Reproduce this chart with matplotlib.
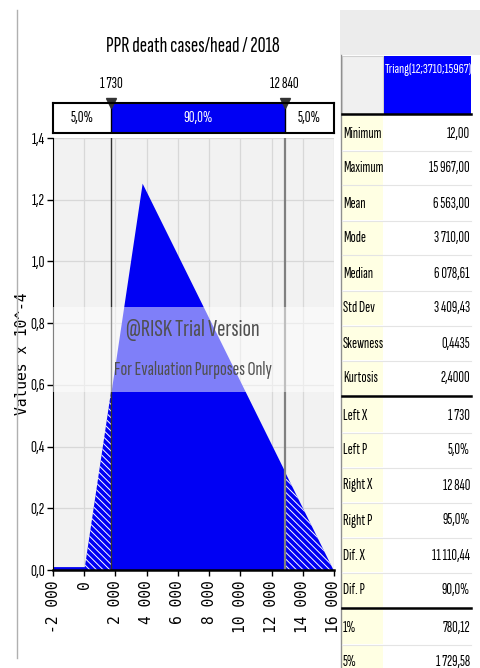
import matplotlib
matplotlib.use("Agg")
import matplotlib.pyplot as plt
from matplotlib.patches import Rectangle

# distribution outline (Triang 12 / 3710 / 15967)
curve_x = [-2000, 12, 1730, 3710, 12840, 15967, 16000]
curve_y = [0.0, 0.0, 0.582, 1.2535, 0.320, 0.0, 0.0]
left_x, right_x = 1730, 12840
band_pcts = ["5,0%", "90,0%", "5,0%"]

x_ticks = [-2000, 0, 2000, 4000, 6000, 8000, 10000, 12000, 14000, 16000]
x_labels = ["-2 000", "0", "2 000", "4 000", "6 000", "8 000",
            "10 000", "12 000", "14 000", "16 000"]
y_ticks = [0.0, 0.2, 0.4, 0.6, 0.8, 1.0, 1.2, 1.4]
y_labels = ["0,0", "0,2", "0,4", "0,6", "0,8", "1,0", "1,2", "1,4"]

stat_names = ["Minimum", "Maximum", "Mean", "Mode", "Median", "Std Dev",
              "Skewness", "Kurtosis"]
stat_vals = ["12,00", "15 967,00", "6 563,00", "3 710,00", "6 078,61",
             "3 409,43", "0,4435", "2,4000"]
tail_names = ["Left X", "Left P", "Right X", "Right P", "Dif. X", "Dif. P"]
tail_vals = ["1 730", "5,0%", "12 840", "95,0%", "11 110,44", "90,0%"]
pct_names = ["1%", "5%"]
pct_vals = ["780,12", "1 729,58"]

BLUE = "#0000f4"
NARROW = ["Sofia Sans Extra Condensed", "DejaVu Sans"]
MONO = ["DejaVu Sans Mono"]
W, H = 480, 668
plt.rcParams["hatch.linewidth"] = 0.7


def fx(px):
    return px / W


def fy(py):
    return 1 - py / H


fig = plt.figure(figsize=(4.8, 6.68), dpi=100)
fig.patch.set_facecolor("white")

# ---- main density plot
ax = fig.add_axes([fx(53), fy(570), fx(334) - fx(53), fy(138) - fy(570)])
ax.set_facecolor("#f2f2f2")
ax.set_xlim(-2000, 16000)
ax.set_ylim(0, 1.4)
ax.grid(color="#d8d8d8", lw=0.9)
ax.set_axisbelow(True)

ax.fill_between(curve_x[1:3], curve_y[1:3], color=BLUE, lw=0,
                hatch="\\\\\\\\\\", edgecolor="white")
ax.fill_between(curve_x[2:5], curve_y[2:5], color=BLUE, lw=0)
ax.fill_between(curve_x[4:6], curve_y[4:6], color=BLUE, lw=0,
                hatch="\\\\\\\\\\", edgecolor="white")
ax.plot(curve_x[:2], [0.008, 0.008], color=BLUE, lw=2)
ax.axvline(left_x, color="#303030", lw=1.0)
ax.axvline(right_x, color="#808080", lw=1.6)

for s in ("top", "right"):
    ax.spines[s].set_visible(False)
ax.spines["left"].set_color("black")
ax.spines["bottom"].set_linewidth(1.8)
ax.set_xticks(x_ticks)
ax.set_xticklabels(x_labels, rotation=90, family=MONO, fontsize=10.5,
                   va="top")
ax.set_yticks(y_ticks)
ax.set_yticklabels(y_labels, family=NARROW, fontsize=12)
ax.tick_params(axis="y", length=4, width=1, color="black", pad=2)
ax.tick_params(axis="x", length=4, width=1, color="black")
ax.set_ylabel("Values x 10^-4", family=MONO, fontsize=10.5)
ax.yaxis.set_label_coords((30 - 53) / 281, 0.5)

# trial watermark band
fig.add_artist(Rectangle((fx(53), fy(392)), fx(334) - fx(53),
                         fy(307) - fy(392), transform=fig.transFigure,
                         facecolor="white", alpha=0.5, lw=0))
fig.text(fx(193), fy(330), "@RISK Trial Version", family=NARROW,
         fontsize=18, color="#505050", ha="center", va="center")
fig.text(fx(193), fy(370), "For Evaluation Purposes Only", family=NARROW,
         fontsize=14.5, color="#505050", ha="center", va="center")

# ---- percentile band above the plot
bx = fig.add_axes([fx(53), fy(133), fx(334) - fx(53), fy(103) - fy(133)])
bx.set_xlim(-2000, 16000)
bx.set_ylim(0, 1)
bx.axvspan(left_x, right_x, color=BLUE, lw=0)
bx.axvline(left_x, color="black", lw=1)
bx.axvline(right_x, color="black", lw=1)
bx.set_xticks([])
bx.set_yticks([])
for s in bx.spines.values():
    s.set_linewidth(1.5)
bx.text((-2000 + left_x) / 2, 0.5, band_pcts[0], ha="center", va="center",
        family=NARROW, fontsize=11.5)
bx.text((left_x + right_x) / 2, 0.5, band_pcts[1], ha="center",
        va="center", family=NARROW, fontsize=11.5, color="white")
bx.text((right_x + 16000) / 2, 0.5, band_pcts[2], ha="center",
        va="center", family=NARROW, fontsize=11.5)
for xv, lab in ((left_x, "1 730"), (right_x, "12 840")):
    bx.plot([xv], [1.0], marker="v", ms=7, color="#333333", clip_on=False)
    bx.text(xv, 1.65, lab, ha="center", va="center", family=NARROW,
            fontsize=11.5)

fig.text(fx(193), fy(47), "PPR death cases/head / 2018", ha="center",
         va="center", family=NARROW, fontsize=16)

# left panel border
fig.add_artist(plt.Line2D([fx(17), fx(17)], [fy(10), fy(658)],
                          transform=fig.transFigure, color="#b0b0b0", lw=1))

# ---- statistics table
lab_l, lab_r, val_r = 342, 383, 471
fig.add_artist(Rectangle((fx(340), fy(55)), fx(W) - fx(340),
                         fy(10) - fy(55), transform=fig.transFigure,
                         facecolor="#ececec", lw=0))
fig.add_artist(Rectangle((fx(lab_l), fy(114)), fx(lab_r) - fx(lab_l),
                         fy(56) - fy(114), transform=fig.transFigure,
                         facecolor="#f0f0f0", edgecolor="#d0d0d0", lw=0.8))
fig.add_artist(Rectangle((fx(lab_r + 1), fy(114)), fx(val_r) - fx(lab_r + 1),
                         fy(56) - fy(114), transform=fig.transFigure,
                         facecolor="#0000ff", lw=0))
fig.text(fx((lab_r + val_r) / 2 + 1), fy(70), "Triang(12;3710;15967)",
         ha="center", va="center", family=NARROW, fontsize=10.5,
         color="white")
fig.add_artist(plt.Line2D([fx(341), fx(341)], [fy(55), fy(H)],
                          transform=fig.transFigure, color="#909090", lw=1))

row_h = 35
groups = [(116, stat_names, stat_vals), (398, tail_names, tail_vals),
          (610, pct_names, pct_vals)]
for top, names, vals in groups:
    fig.add_artist(plt.Line2D([fx(lab_l), fx(val_r)], [fy(top - 2)] * 2,
                              transform=fig.transFigure, color="black",
                              lw=1.8))
    for i, (n, v) in enumerate(zip(names, vals)):
        y0 = top + i * row_h
        fig.add_artist(Rectangle((fx(lab_l), fy(y0 + row_h - 1)),
                                 fx(lab_r) - fx(lab_l), fy(y0) - fy(y0 + row_h - 1),
                                 transform=fig.transFigure,
                                 facecolor="#ffffe3", lw=0))
        fig.add_artist(plt.Line2D([fx(lab_l), fx(val_r)],
                                  [fy(y0 + row_h - 0.5)] * 2,
                                  transform=fig.transFigure,
                                  color="#e4e4e4", lw=0.8))
        fig.text(fx(lab_l + 1), fy(y0 + row_h / 2), n, ha="left",
                 va="center", family=NARROW, fontsize=11)
        fig.text(fx(val_r - 1), fy(y0 + row_h / 2), v, ha="right",
                 va="center", family=NARROW, fontsize=11)

fig.savefig("out.png", dpi=100)
